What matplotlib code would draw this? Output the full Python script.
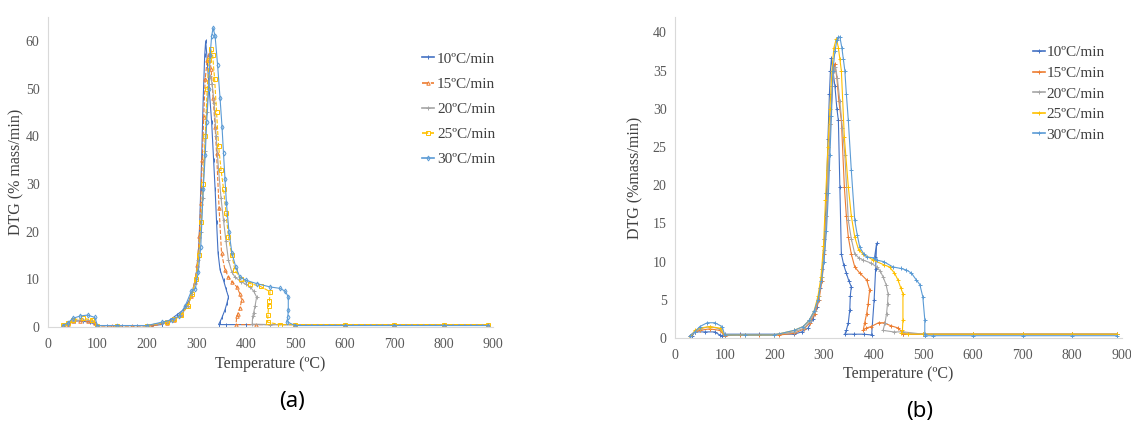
import numpy as np
import matplotlib
matplotlib.use("Agg")
import matplotlib.pyplot as plt

plt.rcParams['font.family'] = ['Liberation Serif', 'DejaVu Serif']

nan = np.nan
rates = ["10ºC/min", "15ºC/min", "20ºC/min", "25ºC/min", "30ºC/min"]
colors = ["#4472C4", "#ED7D31", "#A5A5A5", "#FFC000", "#5B9BD5"]

# ---- panel (a) ----
t_a10 = [30, 40, 45, 55, 70, 85, 95, 100, 120, 150, 180, 210, 230, 247, 260, 274, 285, 291, 297, 301, 305, 307, 309,
         311, 314, 317, 319, 322, 326, 331, 335, 338, 341, 344, 348, 355, 360, 365, 362, 358, 352, 348, 345, 360, 400,
         500, 600, 700, 800, 890]
d_a10 = [0, 0.5, 1.0, 1.3, 1.2, 1.0, 0.5, 0.3, 0.3, 0.3, 0.3, 0.3, 0.5, 1.5, 2.5, 3.6, 5.5, 7, 9.5, 12, 17, 22, 29,
         36, 48, 57, 60, 56, 50, 43, 35, 29, 22, 15.5, 12, 9.8, 8, 6.3, 5, 3.6, 2, 1.1, 0.5, 0.5, 0.5,
         0.5, 0.5, 0.5, 0.5, 0.5]
t_a15 = [30, 40, 50, 65, 80, 95, 100, 130, 170, 210, 240, 255, 270, 282, 290, 297, 302, 306, 309, 312, 315, 318, 322,
         326, 330, 334, 338, 341, 346, 351, 358, 365, 372, 382, 388, 392, 388, 384, 382, 380, 420, 500, 600, 700, 800,
         890]
d_a15 = [0.3, 0.5, 1.2, 1.3, 1.2, 0.8, 0.2, 0.2, 0.2, 0.2, 0.8, 1.5, 2.5, 4.5, 6.5, 9.5, 13, 19, 26, 35, 44, 52, 56,
         57.3, 54, 48, 42, 36.4, 25, 15.5, 12, 10.5, 9.5, 8.4, 7, 5.6, 4, 2.8, 2.2, 0.5, 0.5, 0.5, 0.5, 0.5, 0.5,
         0.5]
t_a20 = [30, 40, 50, 70, 90, 100, 140, 200, 240, 255, 270, 283, 292, 299, 304, 309, 313, 317, 321, 325, 328, 332, 336,
         340, 345, 350, 355, 360, 365, 372, 378, 390, 400, 409, 416, 422, 419, 416, 414, 413, 450, 500, 600, 700, 800,
         890]
d_a20 = [0.5, 0.7, 1.3, 1.5, 1.3, 0.3, 0.3, 0.3, 1.0, 1.6, 2.6, 4.5, 7, 10, 14, 20, 27, 37, 45, 51, 52.7, 51, 47,
         40, 33, 27, 22.4, 18, 14, 11.5, 10.5, 9.5, 9, 8.4, 7.5, 6.3, 4.5, 3, 2.2, 0.6, 0.5, 0.5, 0.5, 0.5, 0.5,
         0.5]
t_a25 = [30, 40, 50, 70, 90, 100, 140, 200, 240, 255, 270, 283, 292, 299, 305, 310, 314, 318, 322, 326, 329, 333, 337,
         341, 345, 350, 355, 360, 365, 372, 378, 390, 409, 430, 449, 448, 446, 445, 444, 470, 500, 600, 700, 800, 890]
d_a25 = [0.5, 0.8, 1.5, 1.8, 1.5, 0.3, 0.3, 0.3, 1.0, 1.6, 2.6, 4.5, 7, 10, 15, 22, 30, 40, 50, 56, 58.3, 57, 52,
         45, 38, 33, 29, 24, 18.9, 15, 12, 10, 9.1, 8.5, 7.4, 5.5, 4.3, 2.5, 1, 0.5, 0.5, 0.5, 0.5, 0.5, 0.5]
t_a30 = [30, 40, 50, 65, 80, 95, 100, 140, 200, 230, 250, 265, 278, 290, 298, 304, 309, 314, 318, 321, 325, 328, 331,
         334, 338, 343, 348, 352, 355, 358, 361, 366, 372, 380, 388, 400, 422, 449, 469, 480, 486, 486, 485, 483, 500,
         600, 700, 800, 890]
d_a30 = [0.3, 0.8, 1.8, 2.3, 2.5, 2.0, 0.3, 0.3, 0.3, 1.0, 1.5, 2.3, 4.5, 7.5, 8, 11.5, 16.8, 29, 36, 43, 50, 57, 61,
         62.7, 61, 55, 48, 42, 36.4, 31, 25.9, 20, 15.5, 12.5, 10.5, 9.8, 9.1, 8.4, 8.1, 7.5, 6.3, 3.6, 2, 1.1, 0.3,
         0.3, 0.3, 0.3, 0.3]

# ---- panel (b) ----
t_b10 = [30, 35, 40, 60, 80, 90, 95, 100, 130, 170, 210, 240, 255, 268, 278, 286, 292, 297, 301, 305, 308, 311, 313,
         315, 318, 322, 326, 329, 332, 335, 340, 345, 350, 355, 353, 352, 349, 345, 342, 360, 380, 396, 401, 404, 406,
         402, nan, 460, 600, 700, 800, 890]
d_b10 = [0, 0.3, 0.8, 0.8, 0.8, 0.4, 0.3, 0.5, 0.5, 0.5, 0.5, 0.5, 0.8, 1.3, 2.5, 4, 6.5, 9, 13, 19, 26, 32, 35,
         36.6, 35, 33, 30, 28.5, 19.8, 11, 9.5, 8.5, 7.5, 6.7, 5.5, 3.7, 2, 1, 0.5, 0.5, 0.5, 0.4, 5, 9, 12.4,
         10.6, nan, 0.5, 0.5, 0.5, 0.5, 0.5]
t_b15 = [30, 40, 50, 70, 90, 100, 130, 170, 210, 240, 260, 272, 282, 290, 296, 301, 305, 309, 313, 317, 320, 322, 326,
         330, 335, 341, 345, 349, 355, 362, 372, 386, 392, 389, 386, 382, 379, 385, 395, 410, 420, 435, 450, 460, 500,
         600, 700, 800, 890]
d_b15 = [0.3, 0.8, 1.0, 1.2, 1.0, 0.3, 0.4, 0.4, 0.4, 0.6, 1.2, 2, 3.2, 5, 7.5, 11, 16, 22, 28, 33, 35.5, 35.9, 34,
         31, 28.5, 19.8, 16, 13.2, 11, 9.3, 8.5, 7.6, 6.3, 4.5, 3.2, 2, 1, 1.3, 1.5, 2, 2, 1.6, 1.3, 0.5, 0.5,
         0.5, 0.5, 0.5, 0.5]
t_b20 = [30, 40, 50, 70, 90, 100, 140, 200, 240, 260, 272, 282, 290, 296, 301, 305, 309, 313, 317, 320, 323, 327, 332,
         337, 342, 349, 355, 362, 370, 379, 395, 406, 413, 419, 425, 429, 428, 426, 423, 419, 440, 460, 500, 600, 700,
         800, 890]
d_b20 = [0.3, 0.8, 1.2, 1.5, 1.2, 0.4, 0.4, 0.4, 0.8, 1.3, 2.2, 3.5, 5.5, 8, 11.5, 16, 22, 28, 33, 35, 35.5, 34, 31,
         27.5, 24, 15.4, 13, 11, 10.5, 10.2, 9.8, 9.3, 8.8, 8, 7, 5.8, 4.5, 3.2, 2, 1, 0.8, 0.8, 0.5, 0.5, 0.5,
         0.5, 0.5]
t_b25 = [30, 40, 50, 70, 90, 100, 140, 200, 240, 258, 270, 280, 288, 294, 299, 303, 308, 312, 316, 320, 325, 329, 332,
         335, 341, 349, 355, 362, 370, 379, 399, 420, 432, 442, 449, 455, 459, 459, 458, 456, 470, 500, 600, 700, 800,
         890]
d_b25 = [0, 1.0, 1.3, 1.5, 1.3, 0.4, 0.4, 0.4, 1.0, 1.5, 2.3, 3.5, 5.5, 8, 12, 18, 25, 30, 35, 38, 39.2, 38, 36.5,
         35, 26.3, 19.8, 16, 13.2, 11.5, 11, 10.2, 9.6, 9.3, 8.5, 7.6, 6.5, 5.8, 2.4, 1, 0.6, 0.5, 0.5, 0.5, 0.5, 0.5,
         0.5]
t_b30 = [30, 40, 50, 65, 80, 95, 100, 140, 200, 240, 258, 270, 280, 288, 295, 300, 305, 309, 312, 315, 318, 322, 326,
         329, 332, 336, 339, 342, 345, 349, 355, 362, 367, 372, 380, 386, 400, 406, 420, 439, 455, 466, 476, 486, 493,
         499, 503, 503, 503, 520, 600, 700, 800, 890]
d_b30 = [0.3, 0.8, 1.5, 2.0, 2.0, 1.5, 0.4, 0.4, 0.4, 1.0, 1.5, 2.3, 3.5, 5, 7.5, 10, 14, 19, 24, 29, 35, 37.5, 39,
         39.4, 39.4, 38, 36.5, 35, 32, 28.5, 22, 15.4, 13.5, 11.9, 11, 10.6, 10.5, 10.2, 10, 9.3, 9.1, 8.9, 8.5, 7.6, 7,
         5.4, 2.4, 0.5, 0.3, 0.3, 0.3, 0.3, 0.3, 0.3]

series_a = [(t_a10, d_a10), (t_a15, d_a15), (t_a20, d_a20), (t_a25, d_a25), (t_a30, d_a30)]
series_b = [(t_b10, d_b10), (t_b15, d_b15), (t_b20, d_b20), (t_b25, d_b25), (t_b30, d_b30)]

fig = plt.figure(figsize=(11.31, 4.29), dpi=100)
ax1 = fig.add_axes([0.0424, 0.2378, 0.3935, 0.7226])
ax2 = fig.add_axes([0.5968, 0.2121, 0.3952, 0.7480])

styles_a = [("-", "|"), ("--", "^"), ("-", "+"), ("--", "s"), ("-", "d")]
for (t, d), c, lab, (ls, mk) in zip(series_a, colors, rates, styles_a):
    ax1.plot(t, d, color=c, lw=0.8, ls=ls, marker=mk, ms=2.5, mfc="none", mew=0.7, label=lab)
for (t, d), c, lab in zip(series_b, colors, rates):
    ax2.plot(t, d, color=c, lw=0.8, marker="+", ms=3, mew=0.7, label=lab)

for ax, ymax, ystep in [(ax1, 65, 10), (ax2, 42, 5)]:
    ax.set_xlim(0, 900)
    ax.set_ylim(0, ymax)
    ax.set_xticks(np.arange(0, 901, 100))
    ax.set_yticks(np.arange(0, ymax + 0.1, ystep))
    for s in ["top", "right"]:
        ax.spines[s].set_visible(False)
    for s in ["left", "bottom"]:
        ax.spines[s].set_color("#d9d9d9")
        ax.spines[s].set_linewidth(0.8)
    ax.tick_params(length=0, labelsize=10, colors="#595959")
    ax.tick_params(axis="x", pad=8)
    ax.tick_params(axis="y", pad=6)
    ax.set_xlabel("Temperature (ºC)", fontsize=11.5, color="#404040")

ax1.set_ylabel("DTG (% mass/min)", fontsize=11.5, color="#404040")
ax2.set_ylabel("DTG (%mass/min)", fontsize=11.5, color="#404040")
ax1.yaxis.set_label_coords(-0.052, 0.5)
ax2.yaxis.set_label_coords(-0.07, 0.5)
ax1.xaxis.set_label_coords(0.5, -0.093)
ax2.xaxis.set_label_coords(0.5, -0.088)

leg1 = ax1.legend(loc="upper left", bbox_to_anchor=(0.84, 0.887), frameon=False, fontsize=11, handlelength=0.8,
                  handletextpad=0.2, labelspacing=0.75, borderpad=0, borderaxespad=0, labelcolor="#404040")
leg2 = ax2.legend(loc="upper left", bbox_to_anchor=(0.80, 0.911), frameon=False, fontsize=11, handlelength=0.8,
                  handletextpad=0.1, labelspacing=0.45, borderpad=0, borderaxespad=0, labelcolor="#404040")
for leg in (leg1, leg2):
    for h in leg.legend_handles:
        h.set_linewidth(1.2)

fig.text(0.258, 0.063, "(a)", fontsize=16, family="Noto Sans", ha="center", va="center")
fig.text(0.813, 0.040, "(b)", fontsize=16, family="Noto Sans", ha="center", va="center")

fig.savefig("out.png", dpi=100)
